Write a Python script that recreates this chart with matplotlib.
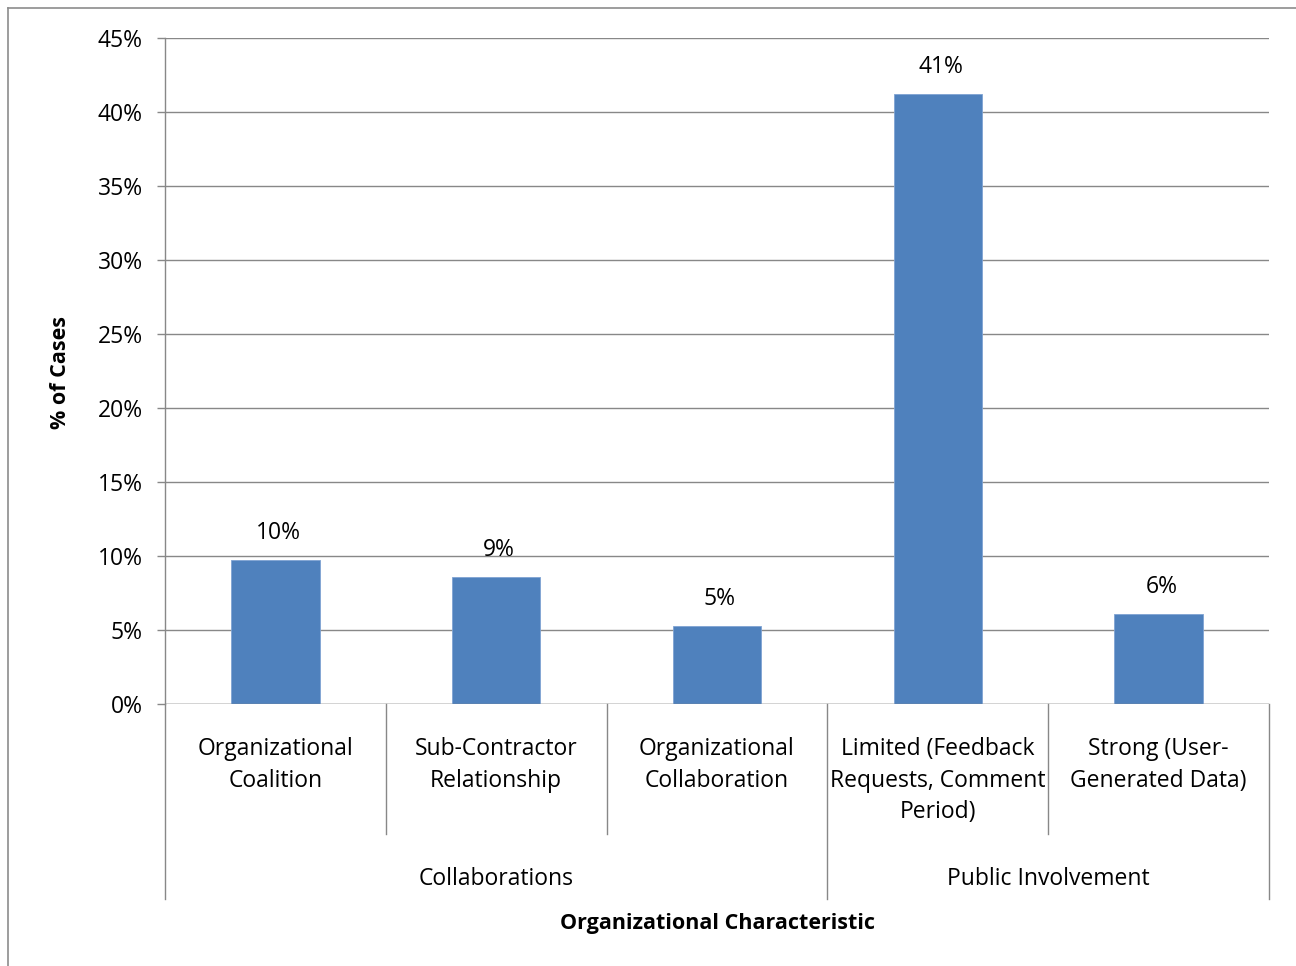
import matplotlib
matplotlib.use("Agg")
import matplotlib.pyplot as plt
from matplotlib.lines import Line2D
from matplotlib.ticker import MultipleLocator, FuncFormatter

plt.rcParams['font.family'] = ['Open Sans', 'DejaVu Sans']

# Data
categories = [
    "Organizational\nCoalition",
    "Sub-Contractor\nRelationship",
    "Organizational\nCollaboration",
    "Limited (Feedback\nRequests, Comment\nPeriod)",
    "Strong (User-\nGenerated Data)",
]
values = [9.75, 8.55, 5.25, 41.2, 6.05]
groups = ["Collaborations", "Public Involvement"]
group_sizes = [3, 2]

BAR_COLOR = "#4F81BD"
GRID_COLOR = "#888888"
FS = 16.5
FS_TITLE = 15.5

W, H = 1296, 966
fig = plt.figure(figsize=(W / 100, H / 100), dpi=100)
left, right, top, bottom = 165, 1269, 38, 704
ax = fig.add_axes([left / W, 1 - bottom / H, (right - left) / W, (bottom - top) / H])

x = list(range(len(categories)))
ax.bar(x, values, width=0.4, color=BAR_COLOR, edgecolor="#7FA3D3", linewidth=0.6, zorder=3)

ax.set_xlim(-0.5, len(categories) - 0.5)
ax.set_ylim(0, 45)
ax.yaxis.set_major_locator(MultipleLocator(5))
ax.yaxis.set_major_formatter(FuncFormatter(lambda v, p: f"{v:.0f}%"))
ax.grid(axis="y", color=GRID_COLOR, linewidth=1.0, zorder=0)
ax.set_axisbelow(True)

for s in ["top", "right", "bottom"]:
    ax.spines[s].set_visible(False)
ax.spines["left"].set_color(GRID_COLOR)
ax.spines["left"].set_linewidth(1.0)
ax.tick_params(axis="y", direction="out", length=6, width=1.0, color=GRID_COLOR,
               labelsize=FS, pad=10)
ax.set_xticks([])
ax.axhline(0, color=GRID_COLOR, linewidth=1.0, zorder=4)

# Value labels
for xi, v in zip(x, values):
    ax.annotate(f"{round(v + 1e-9):.0f}%", xy=(xi, v), xytext=(2, 19.5), textcoords="offset points",
                ha="center", va="center", fontsize=FS, color="black")

# Category labels and separators below the axis
bt = ax.get_xaxis_transform()
def px_to_axes(py):
    return (bottom - py) / (bottom - top)

for xi, lab in zip(x, categories):
    ax.annotate(lab, xy=(xi, 0), xycoords=bt, xytext=(0, -24), textcoords="offset points",
                ha="center", va="top", fontsize=FS, linespacing=1.4, color="black",
                annotation_clip=False)

inner_bottom = px_to_axes(834)
outer_bottom = px_to_axes(899)
boundaries = []
start = 0
for g, n in zip(groups, group_sizes):
    boundaries.append(start - 0.5)
    for k in range(1, n):
        b = start + k - 0.5
        ax.add_line(Line2D([b, b], [0, inner_bottom], transform=bt, color=GRID_COLOR,
                           linewidth=1.0, clip_on=False))
    center = start + (n - 1) / 2
    ax.text(center, px_to_axes(879), g, transform=bt, ha="center", va="center",
            fontsize=FS, color="black")
    start += n
boundaries.append(start - 0.5)
for b in boundaries:
    ax.add_line(Line2D([b, b], [0, outer_bottom], transform=bt, color=GRID_COLOR,
                       linewidth=1.0, clip_on=False))

# Axis titles
fig.text(717 / W, 1 - 923 / H, "Organizational Characteristic", ha="center", va="center",
         fontsize=FS_TITLE, fontweight="bold")
fig.text(60 / W, 1 - 372 / H, "% of Cases", ha="center", va="center", rotation=90,
         fontsize=FS_TITLE, fontweight="bold")

# Chart-area border
fig.add_artist(Line2D([8 / W, 1], [1 - 8 / H, 1 - 8 / H], transform=fig.transFigure,
                      color="#8C8C8C", linewidth=1.2))
fig.add_artist(Line2D([8 / W, 8 / W], [0, 1 - 8 / H], transform=fig.transFigure,
                      color="#8C8C8C", linewidth=1.2))

fig.savefig("out.png", dpi=100, facecolor="white")
